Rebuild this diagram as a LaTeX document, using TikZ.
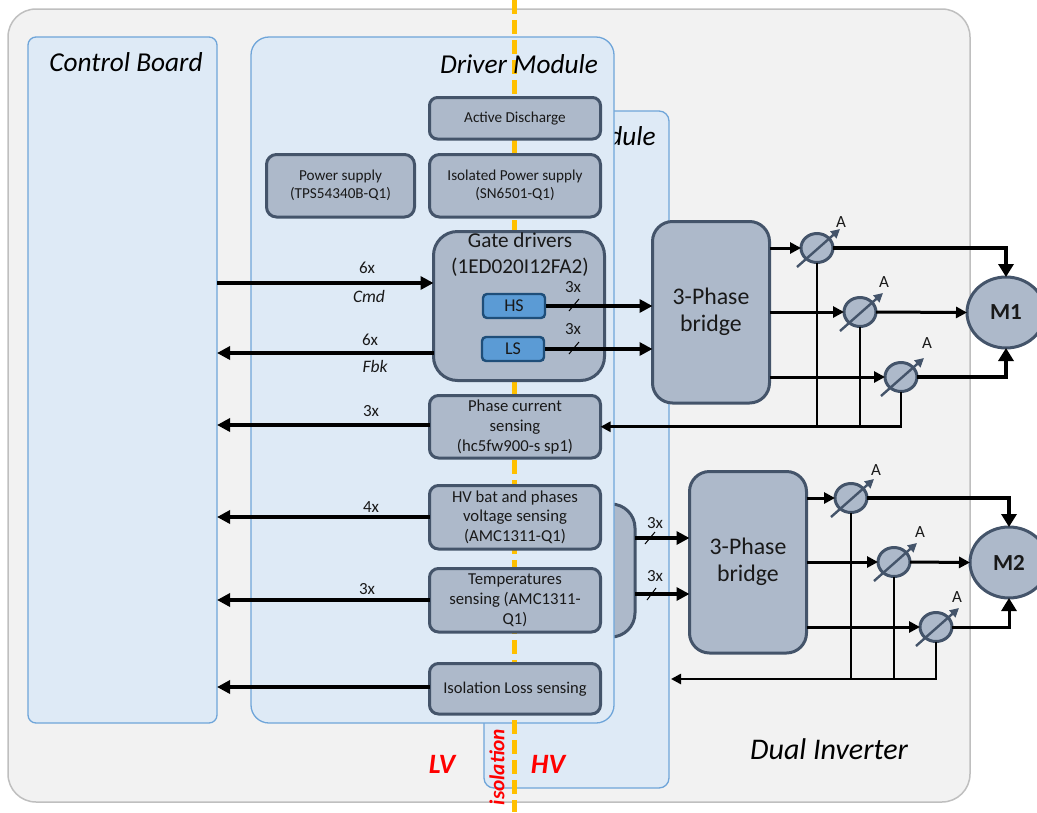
\documentclass[tikz,border=0pt]{standalone}
\usepackage{fontspec}
\setmainfont{Carlito}
\usetikzlibrary{arrows.meta,shapes.geometric,calc}
\definecolor{pagebg}{HTML}{F2F2F2}
\definecolor{pageln}{HTML}{BFBFBF}
\definecolor{modfill}{HTML}{DEEAF6}
\definecolor{modln}{HTML}{6FA5D9}
\definecolor{boxfill}{HTML}{ADB9CA}
\definecolor{boxln}{HTML}{44546A}
\definecolor{chipfill}{HTML}{5B9BD5}
\definecolor{chipln}{HTML}{1F4E79}
\definecolor{isoline}{HTML}{FFC000}
\newcommand{\fs}[2]{\fontsize{#1}{#2}\selectfont}
\tikzset{
  x=1pt,y=-1pt,
  rrect/.style={rectangle,outer sep=0pt,inner sep=0pt,align=center},
  modbox/.style={rrect,draw=modln,fill=modfill,line width=1.3pt},
  blockbox/.style={rrect,draw=boxln,fill=boxfill,line width=3pt,font=\fs{15.2}{19},text=black!90},
  chipbox/.style={rrect,draw=chipln,fill=chipfill,line width=2.4pt,font=\fs{18}{19},text=black!90},
  bridgebox/.style={blockbox,font=\fs{23.8}{28}},
  meter/.style={ellipse,draw=boxln,fill=boxfill,line width=3pt,inner sep=0pt,outer sep=0pt,minimum width=32pt,minimum height=29pt},
  motor/.style={ellipse,draw=boxln,fill=boxfill,line width=3pt,inner sep=0pt,outer sep=0pt,font=\fs{23}{24}\bfseries,text=black!90},
  needle/.style={draw=boxln,line width=2.4pt,-{Triangle[length=9pt,width=9pt]}},
  lab/.style={font=\fs{17}{18},text=black!90,inner sep=0pt},
  mlab/.style={font=\fs{17}{18},text=black!90,inner sep=0pt},
  title/.style={font=\fs{27.3}{30}\itshape,text=black,inner sep=0pt},
  zone/.style={font=\fs{28}{30}\bfseries\itshape,text=red,inner sep=0pt},
  busarrow/.style={draw=black,line width=3.6pt,-{Triangle[length=13pt,width=13pt]}},
  fatarrow/.style={draw=black,line width=4.6pt,-{Triangle[length=13pt,width=15pt]}},
  thinarrow/.style={draw=black,line width=3pt,-{Triangle[length=11pt,width=11pt]}},
  sense/.style={draw=black,line width=2.6pt},
  sensearrow/.style={draw=black,line width=2.6pt,-{Triangle[length=10pt,width=10pt]}},
  tick/.style={draw=black,line width=1pt},
  isoline/.style={draw=isoline,line width=5pt,dash pattern=on 14pt off 6pt}
}
% x1 y1 x2 y2 name style text
\newcommand{\bx}[7]{\node[#6,minimum width={#3-#1},minimum height={#4-#2}] (#5) at ({(#1+#3)/2},{(#2+#4)/2}) {#7};}
\begin{document}
\begin{tikzpicture}
\useasboundingbox (0,0) rectangle (1037,812);
% backgrounds
\bx{8}{9}{970}{802}{outer}{rrect,draw=pageln,fill=pagebg,line width=1.5pt,rounded corners=28pt}{}
\bx{484}{111}{669}{788}{rearmod}{modbox,rounded corners=10pt}{}
\node[title,anchor=base east] (reartitle) at (656,145) {dule};
\bx{470}{504}{635}{637}{rearblock}{blockbox,rounded corners=24pt}{}
\bx{251}{37}{614}{723}{frontmod}{modbox,rounded corners=18pt}{}
\bx{28}{37}{217}{723}{ctrl}{modbox,rounded corners=8pt}{}
% isolation barrier
\coordinate (isoT) at (514.5,0);
\coordinate (isoB) at (514.5,812);
\draw[isoline] (isoT) -- (isoB);
% titles
\node[title] (ctrltitle) at (126,62) {Control Board};
\node[title] (fronttitle) at (519,64) {Driver Module};
\node[title,font=\fs{30}{32}\itshape] (dualtitle) at (829,749) {Dual Inverter};
\node[zone] (lv) at (442,764) {LV};
\node[zone] (hv) at (548,764) {HV};
\node[zone,font=\fs{21.3}{24}\bfseries\itshape,rotate=90] (isotext) at (497,767) {isolation};
% boxes
\bx{429.5}{97.5}{600.5}{139}{discharge}{blockbox,rounded corners=8pt}{Active Discharge}
\bx{429.5}{154.5}{600.5}{217}{isopower}{blockbox,rounded corners=10pt,font=\fs{15.2}{18}}{Isolated Power supply\\(SN6501-Q1)}
\bx{266.5}{154.5}{414.5}{217}{power}{blockbox,rounded corners=10pt,font=\fs{15.2}{18}}{Power supply\\(TPS54340B-Q1)}
\bx{433.5}{231.5}{604.5}{380.5}{gate}{blockbox,rounded corners=24pt}{}
\node[font=\fs{21.2}{26},text=black!90,inner sep=0pt,align=center] (gatetext) at (520,255) {Gate drivers\\(1ED020I12FA2)};
\bx{483}{294}{545}{318}{hs}{chipbox,rounded corners=4pt}{HS}
\bx{482}{337}{544}{361}{ls}{chipbox,rounded corners=4pt}{LS}
\bx{429.5}{395.5}{600.5}{458}{phase}{blockbox,rounded corners=9pt,font=\fs{16.7}{20}}{Phase current\\sensing\\(hc5fw900-s sp1)}
\bx{429.5}{485.5}{600.5}{549}{hvbat}{blockbox,rounded corners=9pt,font=\fs{16.7}{19.6}}{HV bat and phases\\voltage sensing\\(AMC1311-Q1)}
\bx{429.5}{568.5}{600.5}{632}{temp}{blockbox,rounded corners=9pt,font=\fs{16.7}{19.6}}{Temperatures\\sensing (AMC1311-\\Q1)}
\bx{429.5}{663.5}{600.5}{714}{isoloss}{blockbox,rounded corners=9pt,font=\fs{16.5}{19}}{\raisebox{-2pt}{Isolation Loss sensing}}
\bx{652.5}{221.5}{769.5}{403}{bridgeA}{bridgebox,rounded corners=20pt}{\raisebox{-3pt}{3-Phase}\\\raisebox{-2pt}{bridge}}
\bx{689.5}{471.5}{806.5}{653}{bridgeB}{bridgebox,rounded corners=20pt}{\raisebox{-3pt}{3-Phase}\\\raisebox{-2pt}{bridge}}
% motors
\node[motor,minimum width=78pt,minimum height=71pt] (m1) at (1006,312.5) {M1};
\node[motor,minimum width=78pt,minimum height=71pt] (m2) at (1009,562.5) {M2};
% meters
\node[meter] (a1) at (817,248) {};
\node[meter] (a2) at (860,312) {};
\node[meter] (a3) at (901,377) {};
\node[meter] (b1) at (851,498) {};
\node[meter] (b2) at (894,562) {};
\node[meter] (b3) at (936,627) {};
\foreach \n in {a1,a2,a3,b1,b2,b3}{
  \draw[needle] ($(\n)+(-20,19)$) -- ($(\n)+(23,-19)$);
}
\node[mlab] (la1) at (841,222) {A};
\node[mlab] (la2) at (884,282) {A};
\node[mlab] (la3) at (927,343) {A};
\node[mlab] (lb1) at (876,470) {A};
\node[mlab] (lb2) at (920,532) {A};
\node[mlab] (lb3) at (957,597) {A};
% left buses
\draw[busarrow] (ctrl.east |- 0,283) -- (gate.west |- 0,283);
\draw[busarrow] (gate.west |- 0,353) -- (ctrl.east |- 0,353);
\draw[busarrow] (phase.west |- 0,425) -- (ctrl.east |- 0,425);
\draw[busarrow] (hvbat.west |- 0,517) -- (ctrl.east |- 0,517);
\draw[busarrow] (temp.west |- 0,600) -- (ctrl.east |- 0,600);
\draw[busarrow] (isoloss.west |- 0,687) -- (ctrl.east |- 0,687);
\node[lab] (l1) at (367,268) {6x};
\node[lab,font=\fs{17.5}{18}\itshape] (l2) at (369,296) {Cmd};
\node[lab] (l3) at (370,340) {6x};
\node[lab,font=\fs{17.5}{18}\itshape] (l4) at (375,366) {Fbk};
\node[lab] (l5) at (371,411) {3x};
\node[lab] (l6) at (371,507) {4x};
\node[lab] (l7) at (367,589) {3x};
% gate outputs
\draw[busarrow] (hs.east) ++(1,0) coordinate (hsE) -- (bridgeA.west |- hsE);
\draw[busarrow] (ls.east) ++(1,0) coordinate (lsE) -- (bridgeA.west |- lsE);
\coordinate (t1a) at (569,311); \coordinate (t1b) at (579,299);
\coordinate (t2a) at (569,354); \coordinate (t2b) at (579,342);
\draw[tick] (t1a) -- (t1b);
\draw[tick] (t2a) -- (t2b);
\node[lab] (l8) at (573,287) {3x};
\node[lab] (l9) at (573,329) {3x};
% rear block outputs
\draw[busarrow] (rearblock.east |- 0,538) -- (bridgeB.west |- 0,538);
\draw[busarrow] (rearblock.east |- 0,594) -- (bridgeB.west |- 0,594);
\coordinate (t3a) at (645,544); \coordinate (t3b) at (655,532);
\coordinate (t4a) at (647,600); \coordinate (t4b) at (656,588);
\draw[tick] (t3a) -- (t3b);
\draw[tick] (t4a) -- (t4b);
\node[lab] (l10) at (655,523) {3x};
\node[lab] (l11) at (655,576) {3x};
% bridge A to meters and motor
\draw[thinarrow] (bridgeA.east |- a1) -- (a1.west);
\draw[thinarrow] (bridgeA.east |- a2) -- (a2.west);
\draw[thinarrow] (bridgeA.east |- a3) -- (a3.west);
\draw[fatarrow] (a1.east) -| (m1.north);
\draw[thinarrow] (a2.east) -- (m1.west);
\draw[fatarrow] (a3.east) -| (m1.south);
% bridge B to meters and motor
\draw[thinarrow] (bridgeB.east |- b1) -- (b1.west);
\draw[thinarrow] (bridgeB.east |- b2) -- (b2.west);
\draw[thinarrow] (bridgeB.east |- b3) -- (b3.west);
\draw[fatarrow] (b1.east) -| (m2.north);
\draw[thinarrow] (b2.east) -- (m2.west);
\draw[thinarrow,-{Triangle[length=13pt,width=15pt]}] (b3.east) -| (m2.south);
% sensing returns
\coordinate (sa) at (901,426.5);
\draw[sensearrow] (a3.south) |- (phase.east);
\draw[sense] (a1.south) -- (a1.south |- sa);
\draw[sense] (a2.south) -- (a2.south |- sa);
\coordinate (sb) at (937,679);
\coordinate (sbend) at (671,679);
\draw[sensearrow] (b3.south) |- (sbend);
\draw[sense] (b1.south) -- (b1.south |- sb);
\draw[sense] (b2.south) -- (b2.south |- sb);
\end{tikzpicture}
\end{document}
